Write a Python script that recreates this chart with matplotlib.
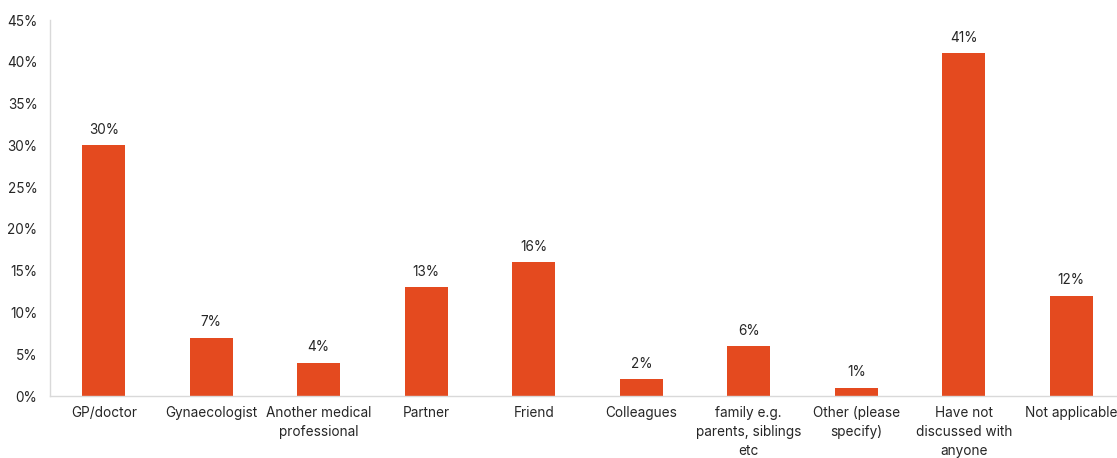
import matplotlib
matplotlib.use('Agg')
import matplotlib.pyplot as plt
from matplotlib.ticker import PercentFormatter

categories = ['GP/doctor', 'Gynaecologist', 'Another medical\nprofessional',
              'Partner', 'Friend', 'Colleagues',
              'family e.g.\nparents, siblings\netc', 'Other (please\nspecify)',
              'Have not\ndiscussed with\nanyone', 'Not applicable']
values = [30, 7, 4, 13, 16, 2, 6, 1, 41, 12]

plt.rcParams['font.family'] = ['Inter', 'DejaVu Sans']
text_col = '#262626'
bar_col = '#E44A1F'
fs = 9.8

fig = plt.figure(figsize=(11.17, 4.58), dpi=100)
W, H = 1117, 458
ax = fig.add_axes([50 / W, (H - 396) / H, 1075 / W, 376 / H])

x = range(len(values))
bars = ax.bar(x, values, width=0.4, color=bar_col)
for xi, v in zip(x, values):
    ax.text(xi, v + 1.0, f'{v}%', ha='center', va='bottom', fontsize=fs, color=text_col)

ax.set_xlim(-0.5, len(values) - 0.5)
ax.set_ylim(0, 45)
ax.set_yticks(range(0, 46, 5))
ax.yaxis.set_major_formatter(PercentFormatter(decimals=0))
ax.set_xticks(list(x))
ax.set_xticklabels(categories, fontsize=fs, color=text_col, linespacing=1.48)
ax.tick_params(axis='y', labelsize=fs, colors=text_col, length=0, pad=9)
ax.tick_params(axis='x', length=0, pad=7)

for s in ['top', 'right']:
    ax.spines[s].set_visible(False)
for s in ['left', 'bottom']:
    ax.spines[s].set_color('#D9D9D9')
    ax.spines[s].set_linewidth(1)

fig.savefig('out.png', dpi=100)
